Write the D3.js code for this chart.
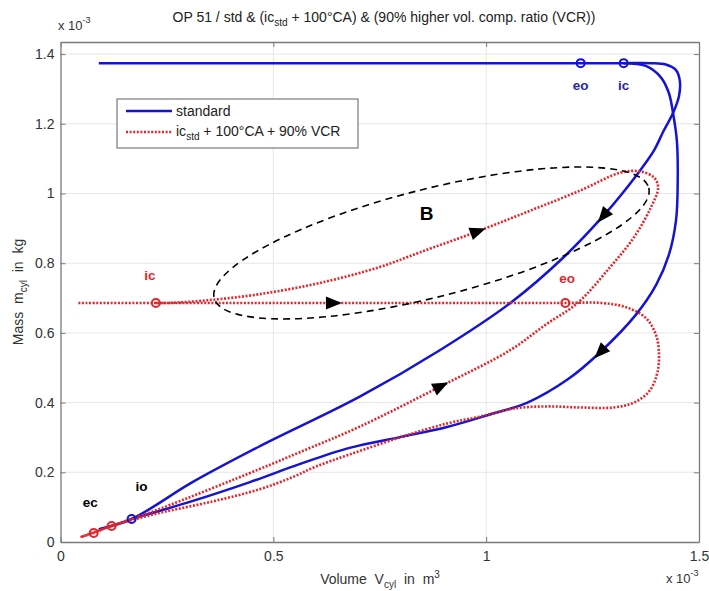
<!DOCTYPE html>
<html><head><meta charset="utf-8">
<script src="https://cdn.jsdelivr.net/npm/d3@7"></script>
<style>body{margin:0;background:#fff} text{white-space:pre}</style>
</head><body><svg id="c" width="709" height="591"></svg>
<script>
// ---------- data (V in 1e-3 m^3, m in 1e-3 kg) ----------
const xTicks=[0,0.5,1,1.5];
const xTickLabels=["0","0.5","1","1.5"];
const yTicks=[0,0.2,0.4,0.6,0.8,1,1.2,1.4];
const yTickLabels=["0","0.2","0.4","0.6","0.8","1","1.2","1.4"];

// standard: top line -> blowdown corner -> inner branch -> io -> TDC
const stdBranchA=[[0.090,1.374],[1.222,1.374],[1.323,1.374],[1.387,1.374],[1.422,1.370],[1.446,1.354],[1.455,1.323],[1.453,1.280],[1.439,1.231],[1.417,1.180],[1.394,1.123],[1.356,1.057],[1.276,0.937],[1.182,0.817],[1.057,0.686],[0.892,0.551],[0.703,0.417],[0.467,0.274],[0.309,0.171],[0.167,0.066],[0.090,0.037]];
// standard: ic -> outer right branch -> lower branch -> io
const stdBranchB=[[1.323,1.374],[1.375,1.366],[1.410,1.334],[1.429,1.289],[1.439,1.231],[1.448,1.151],[1.450,1.037],[1.446,0.923],[1.429,0.823],[1.399,0.737],[1.351,0.651],[1.269,0.546],[1.191,0.466],[1.097,0.400],[1.009,0.366],[0.908,0.330],[0.797,0.301],[0.679,0.270],[0.563,0.224],[0.445,0.172],[0.311,0.118],[0.167,0.066]];
// modified: horizontal -> right loop -> lower branch -> TDC
const vcrBranchA=[[0.042,0.686],[0.224,0.686],[0.700,0.686],[1.186,0.686],[1.269,0.686],[1.328,0.674],[1.375,0.643],[1.399,0.594],[1.406,0.537],[1.401,0.480],[1.382,0.431],[1.347,0.400],[1.300,0.386],[1.222,0.386],[1.144,0.389],[1.064,0.383],[0.986,0.360],[0.908,0.340],[0.797,0.300],[0.679,0.251],[0.601,0.217],[0.545,0.186],[0.467,0.151],[0.349,0.114],[0.231,0.083],[0.120,0.046],[0.078,0.026],[0.047,0.014]];
// modified: TDC -> middle branch -> upper loop -> back to ic
const vcrBranchB=[[0.047,0.014],[0.120,0.046],[0.231,0.094],[0.467,0.209],[0.561,0.257],[0.703,0.331],[0.892,0.446],[1.057,0.551],[1.139,0.623],[1.215,0.686],[1.292,0.790],[1.347,0.874],[1.387,0.960],[1.404,1.017],[1.394,1.046],[1.363,1.063],[1.316,1.060],[1.222,1.009],[1.104,0.951],[0.979,0.891],[0.844,0.831],[0.750,0.789],[0.608,0.743],[0.467,0.711],[0.349,0.694],[0.255,0.686],[0.224,0.686]];

const stdMarkers=[{v:1.222,m:1.374,t:"eo"},{v:1.323,m:1.374,t:"ic"},{v:0.167,m:0.066,t:"io"}];
const vcrMarkers=[{v:0.224,m:0.686,t:"ic"},{v:1.186,m:0.686,t:"eo"},{v:0.120,m:0.046,t:"io"},{v:0.078,m:0.026,t:"ec"}];

// direction arrows: position and a point behind it along the path
const arrows=[
 {at:[1.276,0.937],from:[1.356,1.057]},
 {at:[1.269,0.546],from:[1.351,0.651]},
 {at:[0.979,0.891],from:[0.844,0.831]},
 {at:[0.640,0.686],from:[0.560,0.686]},
 {at:[0.892,0.446],from:[0.703,0.331]}
];
// dashed ellipse marking region B: end points (data)
const ellipseEnds=[[0.361,0.700],[1.382,1.016]];

// ---------- drawing ----------
const svg=d3.select("#c");
const L=60.5,R=699,T=42,B=542;
const x=d3.scaleLinear().domain([0,1.5]).range([L,R]);
const y=d3.scaleLinear().domain([0,1.4347]).range([B,T]);
const FONT="'Liberation Sans', Arial, sans-serif";
const BLUE="#1414d2", RED="#e3262c";

// grid
const g=svg.append("g");
g.selectAll(".gx").data(xTicks.slice(1,-1)).enter().append("line")
 .attr("x1",d=>x(d)).attr("x2",d=>x(d)).attr("y1",T).attr("y2",B)
 .attr("stroke","#e6e6e6").attr("stroke-width",1);
g.selectAll(".gy").data(yTicks.slice(1)).enter().append("line")
 .attr("x1",L).attr("x2",R).attr("y1",d=>y(d)).attr("y2",d=>y(d))
 .attr("stroke","#e6e6e6").attr("stroke-width",1);

// axes
const axCol="#7a7a7a";
const xa=svg.append("g").attr("transform",`translate(0,${B})`)
 .call(d3.axisBottom(x).tickValues(xTicks).tickFormat((d,i)=>xTickLabels[i]).tickSizeInner(-5).tickSizeOuter(0).tickPadding(9));
const xt=svg.append("g").attr("transform",`translate(0,${T})`)
 .call(d3.axisTop(x).tickValues(xTicks).tickFormat("").tickSizeInner(-5).tickSizeOuter(0));
const ya=svg.append("g").attr("transform",`translate(${L},0)`)
 .call(d3.axisLeft(y).tickValues(yTicks).tickFormat((d,i)=>yTickLabels[i]).tickSizeInner(-5).tickSizeOuter(0).tickPadding(6));
const yr=svg.append("g").attr("transform",`translate(${R},0)`)
 .call(d3.axisRight(y).tickValues(yTicks).tickFormat("").tickSizeInner(-5).tickSizeOuter(0));
[xa,xt,ya,yr].forEach(a=>{
 a.select(".domain").attr("stroke",axCol).attr("stroke-width",1.3);
 a.selectAll(".tick line").attr("stroke",axCol);
 a.selectAll("text").attr("font-family",FONT).attr("font-size",14).attr("fill","#333");
});

// curves
const line=d3.line().x(d=>x(d[0])).y(d=>y(d[1])).curve(d3.curveCatmullRom.alpha(0.5));
const curves=svg.append("g").attr("fill","none");
[stdBranchA,stdBranchB].forEach(s=>curves.append("path").attr("d",line(s))
 .attr("stroke",BLUE).attr("stroke-width",2.5).attr("stroke-linejoin","round"));
[vcrBranchA,vcrBranchB].forEach(s=>curves.append("path").attr("d",line(s))
 .attr("stroke",RED).attr("stroke-width",2.6).attr("stroke-dasharray","2,1.6"));

// ellipse B
(function(){
 const p1=[x(ellipseEnds[0][0]),y(ellipseEnds[0][1])], p2=[x(ellipseEnds[1][0]),y(ellipseEnds[1][1])];
 const cx=(p1[0]+p2[0])/2, cy=(p1[1]+p2[1])/2;
 const a=Math.hypot(p2[0]-p1[0],p2[1]-p1[1])/2, ang=Math.atan2(p2[1]-p1[1],p2[0]-p1[0])*180/Math.PI;
 svg.append("ellipse").attr("cx",0).attr("cy",0).attr("rx",a).attr("ry",54)
  .attr("transform",`translate(${cx},${cy}) rotate(${ang})`)
  .attr("fill","none").attr("stroke","#000").attr("stroke-width",1.6).attr("stroke-dasharray","7,5");
})();

// markers
svg.selectAll(".ms").data(stdMarkers).enter().append("circle")
 .attr("cx",d=>x(d.v)).attr("cy",d=>y(d.m)).attr("r",4).attr("fill","none").attr("stroke",BLUE).attr("stroke-width",2);
svg.selectAll(".mv").data(vcrMarkers).enter().append("circle")
 .attr("cx",d=>x(d.v)).attr("cy",d=>y(d.m)).attr("r",4).attr("fill","none").attr("stroke",RED).attr("stroke-width",2);

// arrows
arrows.forEach(a=>{
 const px=x(a.at[0]),py=y(a.at[1]);
 const ang=Math.atan2(py-y(a.from[1]),px-x(a.from[0]))*180/Math.PI;
 svg.append("path").attr("d","M9,0 L-7,-6.5 L-7,6.5 Z").attr("fill","#000")
  .attr("transform",`translate(${px},${py}) rotate(${ang})`);
});

// text labels
function txt(xp,yp,s,opt={}){
 return svg.append("text").attr("x",xp).attr("y",yp).text(s)
  .attr("font-family",FONT).attr("font-size",opt.size||13.5).attr("font-weight",opt.bold?"bold":"normal")
  .attr("fill",opt.fill||"#000").attr("text-anchor",opt.anchor||"start");
}
txt(x(1.222),y(1.374)+27,"eo",{bold:true,fill:"#2a2a96",anchor:"middle"});
txt(x(1.323),y(1.374)+27,"ic",{bold:true,fill:"#2a2a96",anchor:"middle"});
txt(x(0.210),y(0.686)-23,"ic",{bold:true,fill:RED,anchor:"middle"});
txt(x(1.190),y(0.686)-20,"eo",{bold:true,fill:RED,anchor:"middle"});
txt(x(0.190),y(0.066)-28,"io",{bold:true,anchor:"middle"});
txt(x(0.070),y(0.026)-26,"ec",{bold:true,anchor:"middle"});
txt(x(0.860),y(0.925),"B",{bold:true,size:19,anchor:"middle"});

// title
const ti=svg.append("text").attr("x",384).attr("y",22).attr("text-anchor","middle")
 .attr("font-family",FONT).attr("font-size",14).attr("fill","#222");
ti.append("tspan").text("OP 51 / std & (ic");
ti.append("tspan").text("std").attr("font-size",10).attr("dy",4);
ti.append("tspan").text(" + 100°CA) & (90% higher vol. comp. ratio (VCR))").attr("dy",-4);

// exponent labels
function expo(xp,yp){
 const t=svg.append("text").attr("x",xp).attr("y",yp).attr("font-family",FONT).attr("font-size",13).attr("fill","#333");
 t.append("tspan").text("x 10");
 t.append("tspan").text("-3").attr("font-size",9).attr("dy",-7);
}
expo(58,30);
expo(666,583);

// axis labels
const xl=svg.append("text").attr("x",380).attr("y",584).attr("text-anchor","middle")
 .attr("font-family",FONT).attr("font-size",14).attr("fill","#333");
xl.append("tspan").text("Volume  V");
xl.append("tspan").text("cyl").attr("font-size",10).attr("dy",4);
xl.append("tspan").text("  in  m").attr("dy",-4);
xl.append("tspan").text("3").attr("font-size",10).attr("dy",-6);

const yl=svg.append("text").attr("transform","translate(23,292) rotate(-90)").attr("text-anchor","middle")
 .attr("font-family",FONT).attr("font-size",14).attr("fill","#333");
yl.append("tspan").text("Mass  m");
yl.append("tspan").text("cyl").attr("font-size",10).attr("dy",4);
yl.append("tspan").text("  in  kg").attr("dy",-4);

// legend
const lg=svg.append("g");
lg.append("rect").attr("x",117).attr("y",99).attr("width",241).attr("height",49)
 .attr("fill","#fff").attr("stroke","#7a7a7a").attr("stroke-width",1.2);
lg.append("line").attr("x1",126).attr("x2",172).attr("y1",111).attr("y2",111).attr("stroke",BLUE).attr("stroke-width",2.5);
lg.append("line").attr("x1",126).attr("x2",172).attr("y1",132).attr("y2",132).attr("stroke",RED).attr("stroke-width",2.6).attr("stroke-dasharray","2,1.6");
const l1=lg.append("text").attr("x",176).attr("y",116).attr("font-family",FONT).attr("font-size",14).attr("fill","#222").text("standard");
const l2=lg.append("text").attr("x",176).attr("y",136).attr("font-family",FONT).attr("font-size",14).attr("fill","#222");
l2.append("tspan").text("ic");
l2.append("tspan").text("std").attr("font-size",10).attr("dy",4);
l2.append("tspan").text(" + 100°CA + 90% VCR").attr("dy",-4);
</script></body></html>
